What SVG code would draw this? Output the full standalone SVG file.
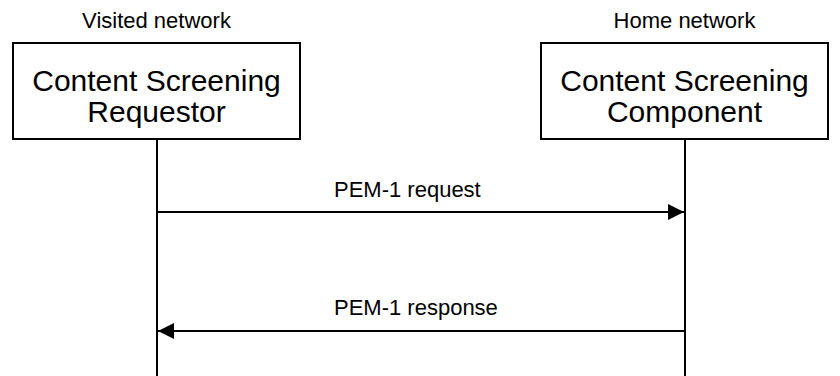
<svg xmlns="http://www.w3.org/2000/svg" width="840" height="376" viewBox="0 0 840 376">
<defs>
<style>
text{font-family:"Liberation Sans",Arial,sans-serif;fill:#000;text-anchor:middle}
.lbl{font-size:22px}
.msgl{font-size:22px;text-anchor:start}
.big{font-size:30px}
.box{fill:#fff;stroke:#000;stroke-width:2}
.life{stroke:#000;stroke-width:2;fill:none}
.msg{stroke:#000;stroke-width:2;fill:none}
</style>
<marker id="ah" markerWidth="16" markerHeight="16" viewBox="0 0 16 16" refX="16" refY="8" orient="auto" markerUnits="userSpaceOnUse">
<path d="M0,0 L16,8 L0,16 Z" fill="#000"/>
</marker>
</defs>
<rect width="840" height="376" fill="#fff"/>
<g id="requestor">
<text class="lbl" x="156.5" y="28">Visited network</text>
<rect class="box" x="13" y="43" width="287" height="96"/>
<text class="big" x="156.5" y="91">Content Screening</text>
<text class="big" x="156.5" y="122">Requestor</text>
</g>
<g id="component">
<text class="lbl" x="684.5" y="28">Home network</text>
<rect class="box" x="541" y="43" width="287" height="96"/>
<text class="big" x="684.5" y="91">Content Screening</text>
<text class="big" x="684.5" y="122">Component</text>
</g>
<g id="connectors">
<line class="life" x1="157" y1="139" x2="157" y2="376"/>
<line class="life" x1="685" y1="139" x2="685" y2="376"/>
<line class="msg" x1="157" y1="212" x2="684" y2="212" marker-end="url(#ah)"/>
<text class="msgl" x="334" y="197">PEM-1 request</text>
<line class="msg" x1="685" y1="331" x2="158" y2="331" marker-end="url(#ah)"/>
<text class="msgl" x="334" y="315">PEM-1 response</text>
</g>
</svg>
